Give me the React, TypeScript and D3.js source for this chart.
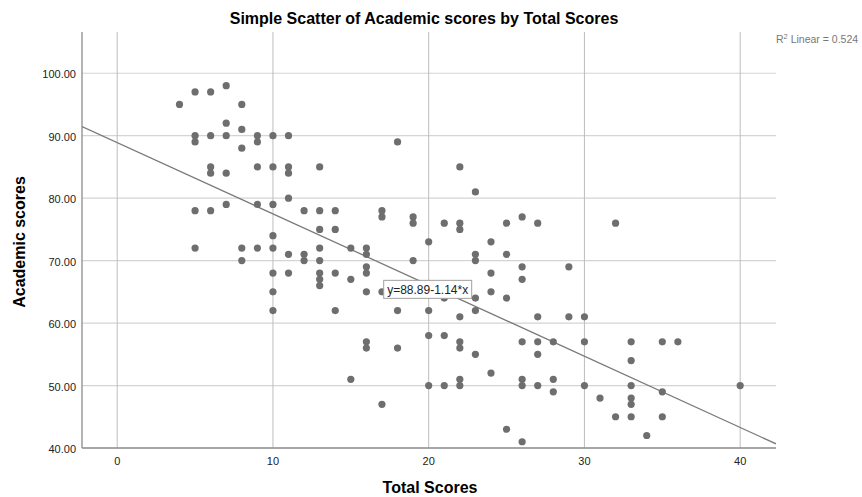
import React from "react";
import { scaleLinear, line } from "d3";

// Total score (x) and academic score (y) for each student
const totalScores = [
  4,
  5, 5, 5, 5, 5,
  6, 6, 6, 6, 6,
  7, 7, 7, 7, 7,
  8, 8, 8, 8, 8,
  9, 9, 9, 9, 9,
  10, 10, 10, 10, 10, 10, 10, 10,
  11, 11, 11, 11, 11, 11,
  12, 12, 12,
  13, 13, 13, 13, 13, 13, 13, 13,
  14, 14, 14, 14,
  15, 15, 15,
  16, 16, 16, 16, 16, 16, 16,
  17, 17, 17, 17,
  18, 18, 18,
  19, 19, 19,
  20, 20, 20, 20,
  21, 21, 21, 21,
  22, 22, 22, 22, 22, 22, 22, 22,
  23, 23, 23, 23, 23, 23,
  24, 24, 24, 24,
  25, 25, 25, 25,
  26, 26, 26, 26, 26, 26, 26,
  27, 27, 27, 27, 27,
  28, 28, 28,
  29, 29,
  30, 30, 30,
  31,
  32, 32,
  33, 33, 33, 33, 33, 33,
  34,
  35, 35, 35,
  36,
  40
];

const academicScores = [
  95,
  97, 90, 89, 78, 72,
  97, 90, 85, 84, 78,
  98, 92, 90, 84, 79,
  95, 91, 88, 72, 70,
  90, 89, 85, 79, 72,
  90, 85, 79, 74, 72, 68, 65, 62,
  90, 85, 84, 80, 71, 68,
  78, 71, 70,
  85, 78, 75, 72, 70, 68, 67, 66,
  78, 75, 68, 62,
  72, 67, 51,
  72, 71, 69, 68, 65, 57, 56,
  78, 77, 65, 47,
  89, 62, 56,
  77, 76, 70,
  73, 62, 58, 50,
  76, 64, 58, 50,
  85, 76, 75, 61, 57, 56, 51, 50,
  81, 71, 70, 64, 62, 55,
  73, 68, 65, 52,
  76, 71, 64, 43,
  77, 69, 67, 57, 51, 50, 41,
  76, 61, 57, 55, 50,
  57, 51, 49,
  69, 61,
  61, 57, 50,
  48,
  76, 45,
  57, 54, 50, 48, 47, 45,
  42,
  57, 49, 45,
  57,
  50
];

const xTicks = [0, 10, 20, 30, 40];
const yTicks = [40, 50, 60, 70, 80, 90, 100];

const intercept = 88.89;
const slope = -1.14;
const rSquared = "0.524";

const W = 862;
const H = 497;
const left = 82;
const right = 776;
const top = 32;
const bottom = 448;

const font = "'Liberation Sans', Arial, sans-serif";

export default function App() {
  const x = scaleLinear().domain([-2.26, 42.3]).range([left, right]);
  const y = scaleLinear().domain([40, 106.6]).range([bottom, top]);

  const fitPath = line<number>()
    .x((d) => x(d))
    .y((d) => y(intercept + slope * d))(x.domain());

  const labelX = 20;
  const labelY = 65.4;

  return (
    <div style={{ position: "fixed", left: 0, top: 0 }}>
      <svg width={W} height={H} style={{ display: "block", background: "#fff" }}>
        <defs>
          <clipPath id="plot">
            <rect x={left} y={top} width={right - left} height={bottom - top} />
          </clipPath>
        </defs>

        {/* title */}
        <text
          x={424}
          y={24}
          textAnchor="middle"
          fontFamily={font}
          fontWeight="bold"
          fontSize={16}
          fill="#000"
        >
          Simple Scatter of Academic scores by Total Scores
        </text>

        {/* grid */}
        {yTicks.slice(1).map((t) => (
          <line key={"gy" + t} x1={left} x2={right} y1={y(t)} y2={y(t)} stroke="#d4d4d4" strokeWidth={1.2} />
        ))}
        {xTicks.map((t) => (
          <line key={"gx" + t} x1={x(t)} x2={x(t)} y1={top} y2={bottom} stroke="#bdbdbd" strokeWidth={1} />
        ))}

        {/* axes */}
        <line x1={left} x2={left} y1={top} y2={bottom} stroke="#8a8a8a" strokeWidth={1.3} />
        <line x1={left} x2={right} y1={bottom} y2={bottom} stroke="#8a8a8a" strokeWidth={1.3} />

        {yTicks.map((t) => (
          <text
            key={"ty" + t}
            x={left - 6}
            y={y(t) + 5}
            textAnchor="end"
            fontFamily={font}
            fontSize={11}
            fill="#222"
          >
            {t.toFixed(2)}
          </text>
        ))}
        {xTicks.map((t) => (
          <text
            key={"tx" + t}
            x={x(t)}
            y={bottom + 17}
            textAnchor="middle"
            fontFamily={font}
            fontSize={11}
            fill="#222"
          >
            {t}
          </text>
        ))}

        {/* axis titles */}
        <text
          x={430}
          y={493}
          textAnchor="middle"
          fontFamily={font}
          fontWeight="bold"
          fontSize={16}
          fill="#000"
        >
          Total Scores
        </text>
        <text
          transform={`translate(25,242) rotate(-90)`}
          textAnchor="middle"
          fontFamily={font}
          fontWeight="bold"
          fontSize={16}
          fill="#000"
        >
          Academic scores
        </text>

        {/* fit line */}
        <path d={fitPath ?? ""} fill="none" stroke="#7a7a7a" strokeWidth={1.3} clipPath="url(#plot)" />

        {/* points */}
        {totalScores.map((t, i) => (
          <circle key={i} cx={x(t)} cy={y(academicScores[i])} r={3.6} fill="#6e6e6e" />
        ))}

        {/* fit label */}
        <rect
          x={x(labelX) - 45}
          y={y(labelY) - 9}
          width={88}
          height={18}
          fill="#fff"
          stroke="#a0a0a0"
          strokeWidth={1}
        />
        <text
          x={x(labelX) - 1}
          y={y(labelY) + 4.5}
          textAnchor="middle"
          fontFamily={font}
          fontSize={12}
          fill="#222"
        >
          {`y=${intercept}${slope}*x`}
        </text>

        {/* R squared */}
        <text x={776} y={43} fontFamily={font} fontSize={10.5} fill="#777">
          R<tspan dy={-4} fontSize={7.5}>2</tspan>
          <tspan dy={4}>{` Linear = ${rSquared}`}</tspan>
        </text>
      </svg>
    </div>
  );
}
